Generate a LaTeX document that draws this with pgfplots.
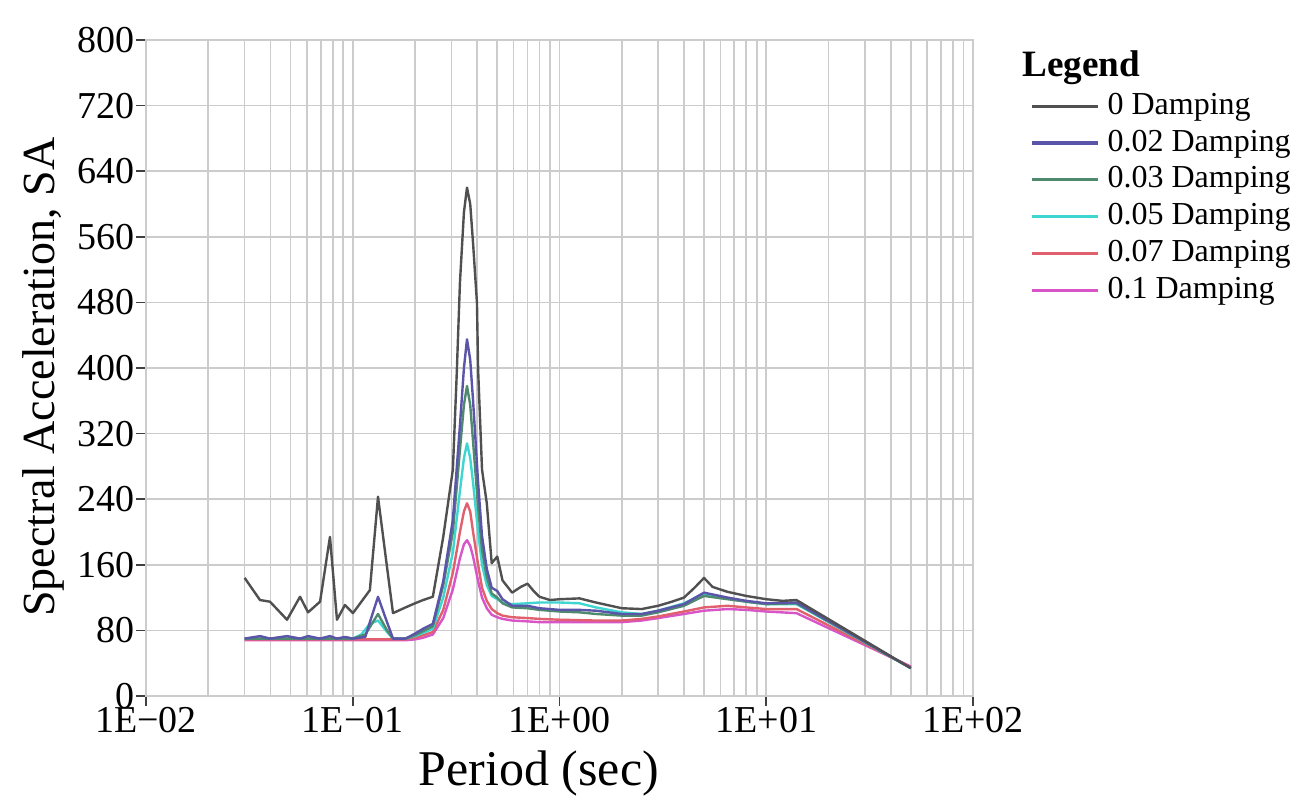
\documentclass[border=0pt]{standalone}
\usepackage{pgfplots}
\pgfplotsset{compat=1.18}
\usepackage{fontspec}
\setmainfont{Liberation Serif}
\usetikzlibrary{calc}
\definecolor{c0}{HTML}{505050}
\definecolor{c2}{HTML}{5A55A8}
\definecolor{c3}{HTML}{4F8A6E}
\definecolor{c5}{HTML}{3FD5D0}
\definecolor{c7}{HTML}{E0606E}
\definecolor{c10}{HTML}{D855C8}
\begin{document}
\begin{tikzpicture}
\begin{axis}[
 name=ax, scale only axis, width=413.5pt, height=328pt,
 xmode=log, xmin=0.01, xmax=100, ymin=0, ymax=800,
 xtick={0.01,0.1,1,10,100}, xticklabels={1E−02,1E−01,1E+00,1E+01,1E+02},
 ytick={0,80,...,800},
 grid=both,
 major grid style={gray!40, line width=0.8pt},
 minor grid style={gray!40, line width=0.8pt},
 axis line style={gray!40, line width=0.8pt},
 tick pos=left, tick align=outside, major tick length=5pt, minor tick length=0pt,
 tick style={black!75, line width=0.8pt},
 tick label style={font=\fontsize{19}{21}\selectfont, inner sep=0.5pt},
 /pgf/number format/assume math mode=true,
 clip=false,
 xlabel={Period (sec)}, ylabel={Spectral Acceleration, SA},
 xlabel style={font=\fontsize{25}{28}\selectfont, inner sep=0pt, at={(axis description cs:0.475,-0.118)}, anchor=center},
 ylabel style={font=\fontsize{23}{26}\selectfont, at={(axis description cs:-0.124,0.486)}, anchor=center},
 legend style={at={(axis description cs:1.069,0.927)}, anchor=north west, draw=none, fill=none,
   font=\fontsize{16}{18}\selectfont, row sep=0.4pt, inner sep=0pt, column sep=3pt,
   cells={anchor=west}, nodes={inner sep=1pt, text height=12pt, text depth=4pt}},
 legend image code/.code={\draw[#1, line width=1.6pt] (0pt,0pt) -- (33pt,0pt);},
 every axis plot/.append style={line width=1.2pt, line join=round},
]
\addlegendimage{c0}
\addlegendimage{c2}
\addlegendimage{c3}
\addlegendimage{c5}
\addlegendimage{c7}
\addlegendimage{c10}
\legend{0 Damping, 0.02 Damping, 0.03 Damping, 0.05 Damping, 0.07 Damping, 0.1 Damping}

\addplot[c10, forget plot] coordinates {(0.030,68)(0.1566,68)(0.18,68)(0.2,69)(0.219,71)(0.244,75)(0.274,95)(0.305,130)(0.330,168)(0.345,185)(0.357,190)(0.370,183)(0.382,170)(0.404,140)(0.422,120)(0.445,107)(0.470,99)(0.500,96)(0.530,94)(0.590,92)(0.700,91)(0.800,90)(1.000,90)(1.500,90)(2.000,90)(2.500,92)(3.000,95)(4.000,100)(5.000,104)(6.500,106)(8.000,105)(10.00,103)(14.00,101)(50.00,36)};

\addplot[c7, forget plot] coordinates {(0.030,69)(0.1566,69)(0.18,69)(0.2,71)(0.219,74)(0.244,78)(0.274,105)(0.305,150)(0.330,200)(0.345,225)(0.357,235)(0.370,225)(0.382,200)(0.404,160)(0.422,132)(0.445,116)(0.470,106)(0.500,101)(0.530,98)(0.590,96)(0.700,95)(0.800,94)(1.000,93)(1.500,92)(2.000,92)(2.500,94)(3.000,97)(4.000,103)(5.000,108)(6.500,110)(8.000,108)(10.00,106)(14.00,106)(50.00,35)};

\addplot[c5, forget plot] coordinates {(0.030,70)(0.1002,70)(0.110,75)(0.121,88)(0.1325,92)(0.1465,78)(0.1566,70)(0.18,70)(0.2,73)(0.219,77)(0.244,82)(0.274,120)(0.305,175)(0.330,250)(0.345,290)(0.357,308)(0.370,290)(0.382,260)(0.404,200)(0.422,160)(0.445,135)(0.470,122)(0.500,118)(0.530,114)(0.590,112)(0.700,113)(0.800,114)(1.000,114)(1.250,113)(1.500,108)(2.000,102)(2.500,100)(3.000,104)(4.000,113)(5.000,125)(6.500,119)(8.000,115)(10.00,112)(14.00,112)(50.00,34)};

\addplot[c3, forget plot] coordinates {(0.030,70)(0.0556,70)(0.1002,70)(0.115,75)(0.1325,100)(0.1465,80)(0.1566,70)(0.18,70)(0.2,74)(0.219,79)(0.244,85)(0.274,135)(0.305,200)(0.330,300)(0.345,355)(0.357,378)(0.370,355)(0.382,310)(0.404,230)(0.422,178)(0.445,145)(0.470,125)(0.500,120)(0.530,113)(0.590,108)(0.700,107)(0.800,105)(1.000,103)(1.250,102)(1.500,100)(2.000,98)(2.500,98)(3.000,102)(4.000,110)(5.000,122)(6.500,118)(8.000,115)(10.00,112)(14.00,113)(50.00,34)};

\addplot[c2, forget plot] coordinates {(0.030,70)(0.0356,73)(0.0398,70)(0.0481,73)(0.0556,70)(0.0608,73)(0.0695,70)(0.0776,73)(0.0839,70)(0.0917,72)(0.1002,70)(0.115,72)(0.121,90)(0.1325,121)(0.1465,90)(0.1566,70)(0.18,70)(0.2,76)(0.219,82)(0.244,88)(0.274,140)(0.305,215)(0.330,330)(0.345,400)(0.357,435)(0.370,410)(0.382,360)(0.404,260)(0.422,195)(0.445,155)(0.470,132)(0.500,128)(0.530,118)(0.590,110)(0.700,110)(0.800,107)(1.000,105)(1.250,105)(1.500,104)(2.000,100)(2.500,100)(3.000,104)(4.000,112)(5.000,126)(6.500,120)(8.000,116)(10.00,113)(14.00,114)(50.00,34)};

\addplot[c0, forget plot] coordinates {(0.030,144)(0.0356,117)(0.0398,115)(0.0481,93)(0.0556,121)(0.0608,102)(0.0695,115)(0.0776,194)(0.0839,93)(0.0917,111)(0.1002,101)(0.121,129)(0.1325,243)(0.1465,157)(0.1566,101)(0.18,108)(0.200,113)(0.219,117)(0.244,121)(0.274,194)(0.305,276)(0.318,389)(0.330,504)(0.345,590)(0.357,620)(0.370,600)(0.382,552)(0.399,479)(0.404,398)(0.422,276)(0.445,235)(0.470,162)(0.500,170)(0.530,141)(0.590,126)(0.650,133)(0.700,137)(0.750,128)(0.800,121)(0.900,117)(1.000,118)(1.250,119)(1.500,114)(2.000,107)(2.500,106)(3.000,110)(3.500,115)(4.000,120)(4.500,132)(5.000,144)(5.500,133)(6.500,127)(8.000,122)(10.00,118)(12.00,116)(14.00,117)(50.00,34)};

\node[anchor=west, font=\bfseries\fontsize{18.6}{20}\selectfont, inner sep=0pt] at (axis description cs:1.059,0.958) {Legend};
\coordinate (bl) at (rel axis cs:0,0);
\coordinate (tr) at (rel axis cs:1,1);
\end{axis}
\pgfresetboundingbox
\path[use as bounding box] ($(bl)+(-73pt,-56pt)$) rectangle ($(tr)+(163pt,20pt)$);
\end{tikzpicture}
\end{document}
